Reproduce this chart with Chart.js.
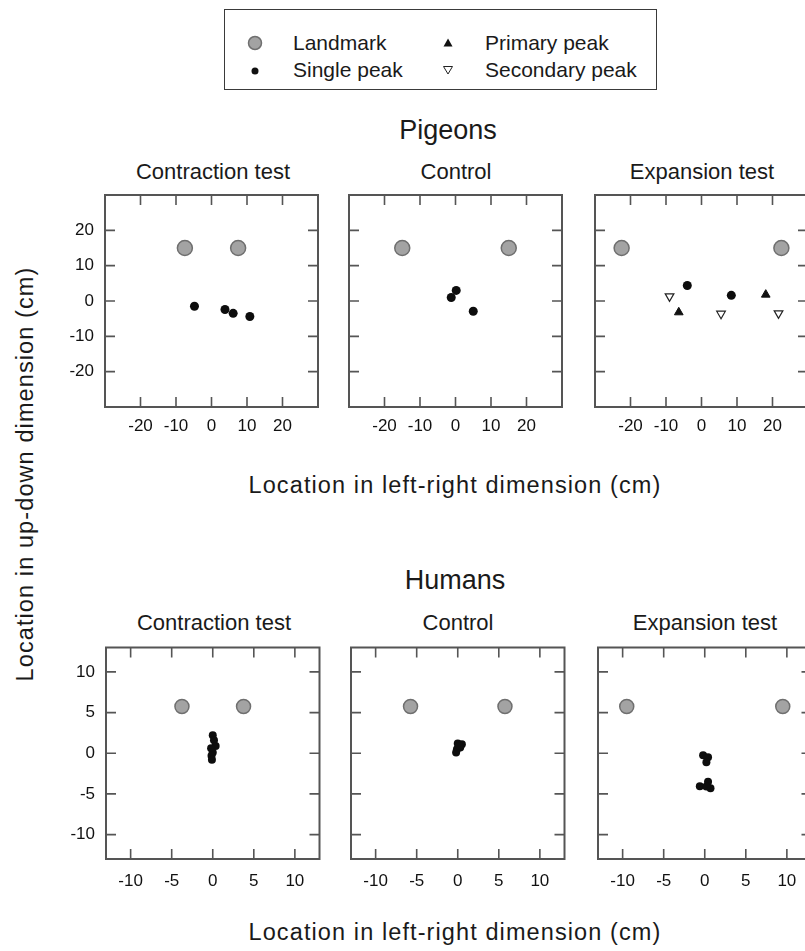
<!DOCTYPE html>
<html>
<head>
<meta charset="utf-8">
<script src="https://cdn.jsdelivr.net/npm/chart.js@4.4.1/dist/chart.umd.min.js"></script>
<style>
  body { margin: 0; width: 805px; height: 951px; position: relative; overflow: hidden; background: #fff;
         font-family: "Liberation Sans", Arial, sans-serif; color: #1a1a1a; }
  .t { position: absolute; white-space: nowrap; transform: translate(-50%, -50%); }
  .panel { position: absolute; }
  .legend { position: absolute; left: 224px; top: 9px; width: 431px; height: 79px; border: 1.6px solid #3a3a3a; }
  .lg { position: absolute; font-size: 21px; white-space: nowrap; transform: translateY(-50%); }
  .lm { position: absolute; transform: translate(-50%, -50%); }
</style>
</head>
<body>

<div class="legend"></div>
<svg class="lm" style="left:255px;top:43px" width="18" height="18"><circle cx="9" cy="9" r="6.5" fill="#a3a3a3" stroke="#6f6f6f" stroke-width="1.5"/></svg>
<div class="lg" style="left:293px;top:43px">Landmark</div>
<svg class="lm" style="left:255px;top:71px" width="12" height="12"><circle cx="6" cy="6" r="3.5" fill="#111"/></svg>
<div class="lg" style="left:293px;top:70px">Single peak</div>
<svg class="lm" style="left:448px;top:43px" width="12" height="12"><polygon points="6,1.5 10.5,9.5 1.5,9.5" fill="#111"/></svg>
<div class="lg" style="left:485px;top:43px">Primary peak</div>
<svg class="lm" style="left:448px;top:70px" width="12" height="12"><polygon points="6,10 10.5,2.5 1.5,2.5" fill="#fff" stroke="#222" stroke-width="1"/></svg>
<div class="lg" style="left:485px;top:70px">Secondary peak</div>

<div class="t" style="left:448px;top:130px;font-size:27px">Pigeons</div>
<div class="t" style="left:213px;top:172px;font-size:22px">Contraction test</div>
<div class="t" style="left:456px;top:172px;font-size:22px">Control</div>
<div class="t" style="left:702px;top:172px;font-size:22px">Expansion test</div>
<div class="t" style="left:455px;top:485px;font-size:23.5px;letter-spacing:1.1px">Location in left-right dimension (cm)</div>

<div class="t" style="left:455px;top:580px;font-size:27px">Humans</div>
<div class="t" style="left:214px;top:623px;font-size:22px">Contraction test</div>
<div class="t" style="left:458px;top:623px;font-size:22px">Control</div>
<div class="t" style="left:705px;top:623px;font-size:22px">Expansion test</div>
<div class="t" style="left:455px;top:932px;font-size:23.5px;letter-spacing:1.1px">Location in left-right dimension (cm)</div>

<div class="t" style="left:25px;top:474px;font-size:23.5px;letter-spacing:1.1px;transform:translate(-50%,-50%) rotate(-90deg)">Location in up-down dimension (cm)</div>

<script>
// tick values
const pigeonTicks = [-20, -10, 0, 10, 20];
const humanTicks = [-10, -5, 0, 5, 10];

// Pigeons: [x, y] in cm
const pigContractionLandmark = [[-7.5, 15], [7.5, 15]];
const pigContractionSingle = [[-4.8, -1.5], [3.8, -2.4], [6.1, -3.5], [10.8, -4.4]];

const pigControlLandmark = [[-15, 15], [15, 15]];
const pigControlSingle = [[0.2, 3.0], [-1.2, 1.0], [5.0, -2.9]];

const pigExpansionLandmark = [[-22.5, 15], [22.5, 15]];
const pigExpansionSingle = [[-4.0, 4.4], [8.4, 1.6]];
const pigExpansionPrimary = [[-6.4, -3.2], [18.1, 1.8]];
const pigExpansionSecondary = [[-9.0, 1.3], [5.5, -3.6], [21.7, -3.5]];

// Humans
const humContractionLandmark = [[-3.75, 5.75], [3.75, 5.75]];
const humContractionSingle = [[0, 2.2], [0.15, 1.6], [0.35, 0.9], [-0.2, 0.6], [0, 0.1], [-0.15, -0.3], [-0.1, -0.8]];

const humControlLandmark = [[-5.75, 5.75], [5.75, 5.75]];
const humControlSingle = [[0, 1.2], [0.5, 1.1], [0.3, 0.7], [-0.1, 0.5], [-0.2, 0.1], [0.2, 0.9]];

const humExpansionLandmark = [[-9.5, 5.75], [9.5, 5.75]];
const humExpansionSingle = [[-0.2, -0.25], [0.4, -0.5], [0.2, -1.1], [-0.6, -4.05], [0.4, -3.5], [0.7, -4.3], [0.2, -4.1]];

Chart.defaults.font.family = "'Liberation Sans', Arial, sans-serif";
Chart.defaults.font.size = 17;
Chart.defaults.color = '#111';

const PAD_L = 60, PAD_T = 8, PAD_R = 8, PAD_B = 40;

// box with inward tick marks on all four sides
const frame = {
  id: 'frame',
  afterDraw(chart, args, opts) {
    const ctx = chart.ctx;
    const a = chart.chartArea;
    const x = chart.scales.x, y = chart.scales.y;
    const vals = opts.ticks || [];
    ctx.save();
    ctx.strokeStyle = '#555';
    ctx.lineWidth = 1.6;
    ctx.beginPath();
    vals.forEach(v => {
      const px = x.getPixelForValue(v);
      ctx.moveTo(px, a.bottom); ctx.lineTo(px, a.bottom - 10);
      ctx.moveTo(px, a.top); ctx.lineTo(px, a.top + 10);
      const py = y.getPixelForValue(v);
      ctx.moveTo(a.left, py); ctx.lineTo(a.left + 10, py);
      ctx.moveTo(a.right, py); ctx.lineTo(a.right - 10, py);
    });
    ctx.stroke();
    ctx.lineWidth = 2;
    ctx.strokeRect(a.left, a.top, a.right - a.left, a.bottom - a.top);
    ctx.restore();
  }
};

function pts(arr) {
  return arr.map(p => ({ x: p[0], y: p[1] }));
}

function landmarkSet(arr, r) {
  return { data: pts(arr), pointStyle: 'circle', pointRadius: r, backgroundColor: '#a3a3a3',
           borderColor: '#6f6f6f', borderWidth: 1.5 };
}
function singleSet(arr, r) {
  return { data: pts(arr), pointStyle: 'circle', pointRadius: r, backgroundColor: '#0d0d0d',
           borderColor: '#0d0d0d', borderWidth: 0 };
}
function primarySet(arr) {
  return { data: pts(arr), pointStyle: 'triangle', pointRadius: 5, backgroundColor: '#111',
           borderColor: '#111', borderWidth: 1 };
}
function secondarySet(arr) {
  return { data: pts(arr), pointStyle: 'triangle', rotation: 180, pointRadius: 5, backgroundColor: '#fff',
           borderColor: '#222', borderWidth: 1.2 };
}

function axis(lim, tickVals, pos, pad, showLabels) {
  return {
    type: 'linear', position: pos, min: -lim, max: lim,
    grid: { display: false, drawTicks: false },
    border: { display: false },
    ticks: { padding: pad, autoSkip: false, maxRotation: 0, display: showLabels },
    afterBuildTicks: s => { s.ticks = tickVals.map(v => ({ value: v })); },
    afterFit: s => {
      if (pos === 'left') s.width = PAD_L; else s.height = PAD_B;
      s.paddingTop = s.paddingBottom = s.paddingLeft = s.paddingRight = 0;
    }
  };
}

function makePanel(left, top, w, h, lim, tickVals, datasets, xPad, showY) {
  const div = document.createElement('div');
  div.className = 'panel';
  div.style.left = (left - PAD_L) + 'px';
  div.style.top = (top - PAD_T) + 'px';
  const cv = document.createElement('canvas');
  cv.width = w + PAD_L + PAD_R;
  cv.height = h + PAD_T + PAD_B;
  div.appendChild(cv);
  document.body.appendChild(div);
  new Chart(cv.getContext('2d'), {
    type: 'scatter',
    data: { datasets: datasets },
    options: {
      responsive: false, animation: false, clip: false,
      layout: { padding: { left: 0, top: PAD_T, right: PAD_R, bottom: 0 } },
      plugins: { legend: { display: false }, tooltip: { enabled: false }, frame: { ticks: tickVals } },
      scales: { x: axis(lim, tickVals, 'bottom', xPad, true), y: axis(lim, tickVals, 'left', 11, showY) }
    },
    plugins: [frame]
  });
}

makePanel(105, 194, 214, 213, 30, pigeonTicks,
  [landmarkSet(pigContractionLandmark, 7.5), singleSet(pigContractionSingle, 4.5)], 9, true);
makePanel(349, 194, 214, 213, 30, pigeonTicks,
  [landmarkSet(pigControlLandmark, 7.5), singleSet(pigControlSingle, 4.5)], 9, false);
makePanel(595, 194, 214, 213, 30, pigeonTicks,
  [landmarkSet(pigExpansionLandmark, 7.5), singleSet(pigExpansionSingle, 4.5),
   primarySet(pigExpansionPrimary), secondarySet(pigExpansionSecondary)], 9, false);

makePanel(106, 647, 214, 212, 13, humanTicks,
  [landmarkSet(humContractionLandmark, 7), singleSet(humContractionSingle, 4)], 12, true);
makePanel(351, 647, 214, 212, 13, humanTicks,
  [landmarkSet(humControlLandmark, 7), singleSet(humControlSingle, 4)], 12, false);
makePanel(598, 647, 214, 212, 13, humanTicks,
  [landmarkSet(humExpansionLandmark, 7), singleSet(humExpansionSingle, 4)], 12, false);
</script>
</body>
</html>
